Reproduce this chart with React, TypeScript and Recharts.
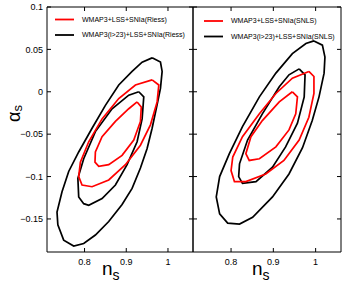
import { ReferenceArea, Scatter, ScatterChart, XAxis, YAxis } from "recharts";

type Pt = [number, number];

const X_DOMAIN: [number, number] = [0.71, 1.06];
const Y_DOMAIN: [number, number] = [-0.189, 0.1];
const xTicks = [0.8, 0.9, 1];
const xTickLabels = ["0.8", "0.9", "1"];
const yTicks = [0.1, 0.05, 0, -0.05, -0.1, -0.15];
const yTickLabels = ["0.1", "0.05", "0", "\u22120.05", "\u22120.1", "\u22120.15"];

const rissLegend = ["WMAP3+LSS+SNIa(Riess)", "WMAP3(l>23)+LSS+SNIa(Riess)"];
const snlsLegend = ["WMAP3+LSS+SNIa(SNLS)", "WMAP3(l>23)+LSS+SNIa(SNLS)"];

// left panel (Riess) contours, [n_s, alpha_s]
const rissBlackOuter: Pt[] = [
  [0.962, 0.04], [0.982, 0.035], [0.986, 0.024], [0.982, 0.004], [0.974, -0.015],
  [0.962, -0.043], [0.95, -0.067], [0.934, -0.09], [0.914, -0.114], [0.89, -0.133],
  [0.858, -0.153], [0.826, -0.169], [0.798, -0.179], [0.774, -0.182], [0.75, -0.175],
  [0.736, -0.157], [0.734, -0.142], [0.746, -0.118], [0.762, -0.094], [0.786, -0.071],
  [0.818, -0.043], [0.85, -0.016], [0.882, 0.008], [0.914, 0.024], [0.938, 0.035],
];
const rissRedOuter: Pt[] = [
  [0.962, 0.014], [0.978, 0.008], [0.974, -0.012], [0.958, -0.039], [0.934, -0.063],
  [0.898, -0.086], [0.858, -0.104], [0.818, -0.112], [0.794, -0.11], [0.786, -0.1],
  [0.79, -0.083], [0.81, -0.059], [0.842, -0.032], [0.882, -0.008], [0.922, 0.008],
];
const rissBlackInner: Pt[] = [
  [0.93, 0.0], [0.942, -0.006], [0.938, -0.032], [0.926, -0.059], [0.902, -0.086],
  [0.874, -0.11], [0.842, -0.126], [0.81, -0.134], [0.798, -0.132], [0.786, -0.124],
  [0.784, -0.102], [0.798, -0.079], [0.826, -0.047], [0.866, -0.02], [0.906, -0.004],
];
const rissRedInner: Pt[] = [
  [0.926, -0.012], [0.936, -0.018], [0.934, -0.035], [0.918, -0.057], [0.89, -0.075],
  [0.858, -0.086], [0.834, -0.088], [0.825, -0.083], [0.826, -0.071], [0.842, -0.053],
  [0.874, -0.035], [0.906, -0.02],
];

// right panel (SNLS) contours
const snlsBlackOuter: Pt[] = [
  [0.996, 0.06], [1.016, 0.055], [1.022, 0.041], [1.02, 0.022], [1.008, -0.006],
  [0.992, -0.034], [0.969, -0.066], [0.937, -0.097], [0.898, -0.124], [0.851, -0.148],
  [0.82, -0.156], [0.792, -0.155], [0.773, -0.144], [0.765, -0.124], [0.773, -0.1],
  [0.796, -0.073], [0.827, -0.041], [0.867, -0.006], [0.906, 0.022], [0.945, 0.045],
  [0.977, 0.057],
];
const snlsRedOuter: Pt[] = [
  [0.984, 0.024], [0.996, 0.018], [0.996, -0.002], [0.984, -0.03], [0.961, -0.057],
  [0.925, -0.081], [0.882, -0.097], [0.835, -0.106], [0.808, -0.106], [0.8, -0.093],
  [0.804, -0.077], [0.827, -0.053], [0.867, -0.026], [0.906, -0.002], [0.945, 0.016],
];
const snlsBlackInner: Pt[] = [
  [0.961, 0.027], [0.975, 0.02], [0.973, -0.006], [0.957, -0.037], [0.929, -0.065],
  [0.898, -0.089], [0.859, -0.106], [0.827, -0.108], [0.818, -0.1], [0.82, -0.085],
  [0.839, -0.057], [0.874, -0.026], [0.914, 0.006], [0.937, 0.02],
];
const snlsRedInner: Pt[] = [
  [0.945, 0.0], [0.957, -0.006], [0.953, -0.026], [0.937, -0.045], [0.906, -0.065],
  [0.867, -0.079], [0.843, -0.081], [0.835, -0.073], [0.847, -0.053], [0.874, -0.034],
  [0.914, -0.012],
];

const RED = "#ff0000";
const BLACK = "#000000";
const FONT = "'Liberation Sans', Arial, sans-serif";

type Box = { left: number; right: number; top: number; bottom: number };

const closed = (pts: Pt[]) => [...pts, pts[0]].map(([x, y]) => ({ x, y }));

function Panel(props: {
  left: number;
  width: number;
  yAxisWidth: number;
  marginRight: number;
  box: Box;
  showYLabels: boolean;
  contours: { pts: Pt[]; color: string }[];
}) {
  const { box } = props;

  const renderXTick = (p: any) => {
    const i = xTicks.indexOf(p.payload.value);
    return (
      <g>
        <line x1={p.x} x2={p.x} y1={box.bottom} y2={box.bottom - 4} stroke={BLACK} />
        <line x1={p.x} x2={p.x} y1={box.top} y2={box.top + 4} stroke={BLACK} />
        <text x={p.x} y={box.bottom + 13} textAnchor="middle" fontSize={9} fontFamily={FONT} fill={BLACK}>
          {xTickLabels[i] ?? String(p.payload.value)}
        </text>
      </g>
    );
  };

  const renderYTick = (p: any) => {
    const i = yTicks.indexOf(p.payload.value);
    return (
      <g>
        <line x1={box.left} x2={box.left + 4} y1={p.y} y2={p.y} stroke={BLACK} />
        <line x1={box.right - 4} x2={box.right} y1={p.y} y2={p.y} stroke={BLACK} />
        {props.showYLabels && (
          <text x={box.left - 4} y={p.y} dy="0.35em" textAnchor="end" fontSize={9} fontFamily={FONT} fill={BLACK}>
            {yTickLabels[i] ?? String(p.payload.value)}
          </text>
        )}
      </g>
    );
  };

  return (
    <div style={{ position: "absolute", left: props.left, top: 0 }}>
      <ScatterChart
        width={props.width}
        height={286}
        margin={{ top: 7, right: props.marginRight, bottom: 0, left: 0 }}
      >
        <XAxis
          type="number"
          dataKey="x"
          domain={X_DOMAIN}
          ticks={xTicks}
          interval={0}
          allowDataOverflow
          height={34}
          axisLine={false}
          tickLine={false}
          tick={renderXTick}
        />
        <YAxis
          type="number"
          dataKey="y"
          domain={Y_DOMAIN}
          ticks={yTicks}
          interval={0}
          allowDataOverflow
          width={props.yAxisWidth}
          axisLine={false}
          tickLine={false}
          tick={renderYTick}
        />
        <ReferenceArea
          x1={X_DOMAIN[0]}
          x2={X_DOMAIN[1]}
          y1={Y_DOMAIN[0]}
          y2={Y_DOMAIN[1]}
          fill="none"
          fillOpacity={0}
          stroke={BLACK}
          strokeWidth={1}
        />
        {props.contours.map((c, i) => (
          <Scatter
            key={i}
            data={closed(c.pts)}
            line={{ stroke: c.color, strokeWidth: 1.7 }}
            lineJointType="linear"
            shape={() => <g />}
            isAnimationActive={false}
          />
        ))}
      </ScatterChart>
    </div>
  );
}

function LegendBlock({ x, y, labels }: { x: number; y: number; labels: string[] }) {
  const colors = [RED, BLACK];
  return (
    <g>
      {labels.map((label, i) => (
        <g key={label}>
          <line x1={x} x2={x + 19} y1={y + i * 15.5} y2={y + i * 15.5} stroke={colors[i]} strokeWidth={1.8} />
          <text x={x + 27} y={y + i * 15.5} dy="0.35em" fontSize={7} fontFamily={FONT} fill={BLACK}>
            {label}
          </text>
        </g>
      ))}
    </g>
  );
}

export default function App() {
  return (
    <div style={{ position: "absolute", left: 0, top: 0, width: 346, height: 286, background: "#fff" }}>
      <Panel
        left={0}
        width={200}
        yAxisWidth={47}
        marginRight={7}
        box={{ left: 47, right: 193, top: 7, bottom: 252 }}
        showYLabels
        contours={[
          { pts: rissBlackOuter, color: BLACK },
          { pts: rissBlackInner, color: BLACK },
          { pts: rissRedOuter, color: RED },
          { pts: rissRedInner, color: RED },
        ]}
      />
      <Panel
        left={186}
        width={160}
        yAxisWidth={7}
        marginRight={5}
        box={{ left: 7, right: 155, top: 7, bottom: 252 }}
        showYLabels={false}
        contours={[
          { pts: snlsBlackOuter, color: BLACK },
          { pts: snlsBlackInner, color: BLACK },
          { pts: snlsRedOuter, color: RED },
          { pts: snlsRedInner, color: RED },
        ]}
      />
      <svg
        width={346}
        height={286}
        style={{ position: "absolute", left: 0, top: 0, pointerEvents: "none" }}
      >
        <LegendBlock x={55} y={19.5} labels={rissLegend} />
        <LegendBlock x={204} y={21} labels={snlsLegend} />
        <text x={102} y={275} fontSize={19} fontFamily={FONT} fill={BLACK}>
          n<tspan fontSize={14} dy={5}>s</tspan>
        </text>
        <text x={252} y={275} fontSize={19} fontFamily={FONT} fill={BLACK}>
          n<tspan fontSize={14} dy={5}>s</tspan>
        </text>
        <text transform="translate(19.5,122) rotate(-90)" fontSize={18} fontFamily={FONT} fill={BLACK}>
          α<tspan fontSize={13} dy={2}>s</tspan>
        </text>
      </svg>
    </div>
  );
}
